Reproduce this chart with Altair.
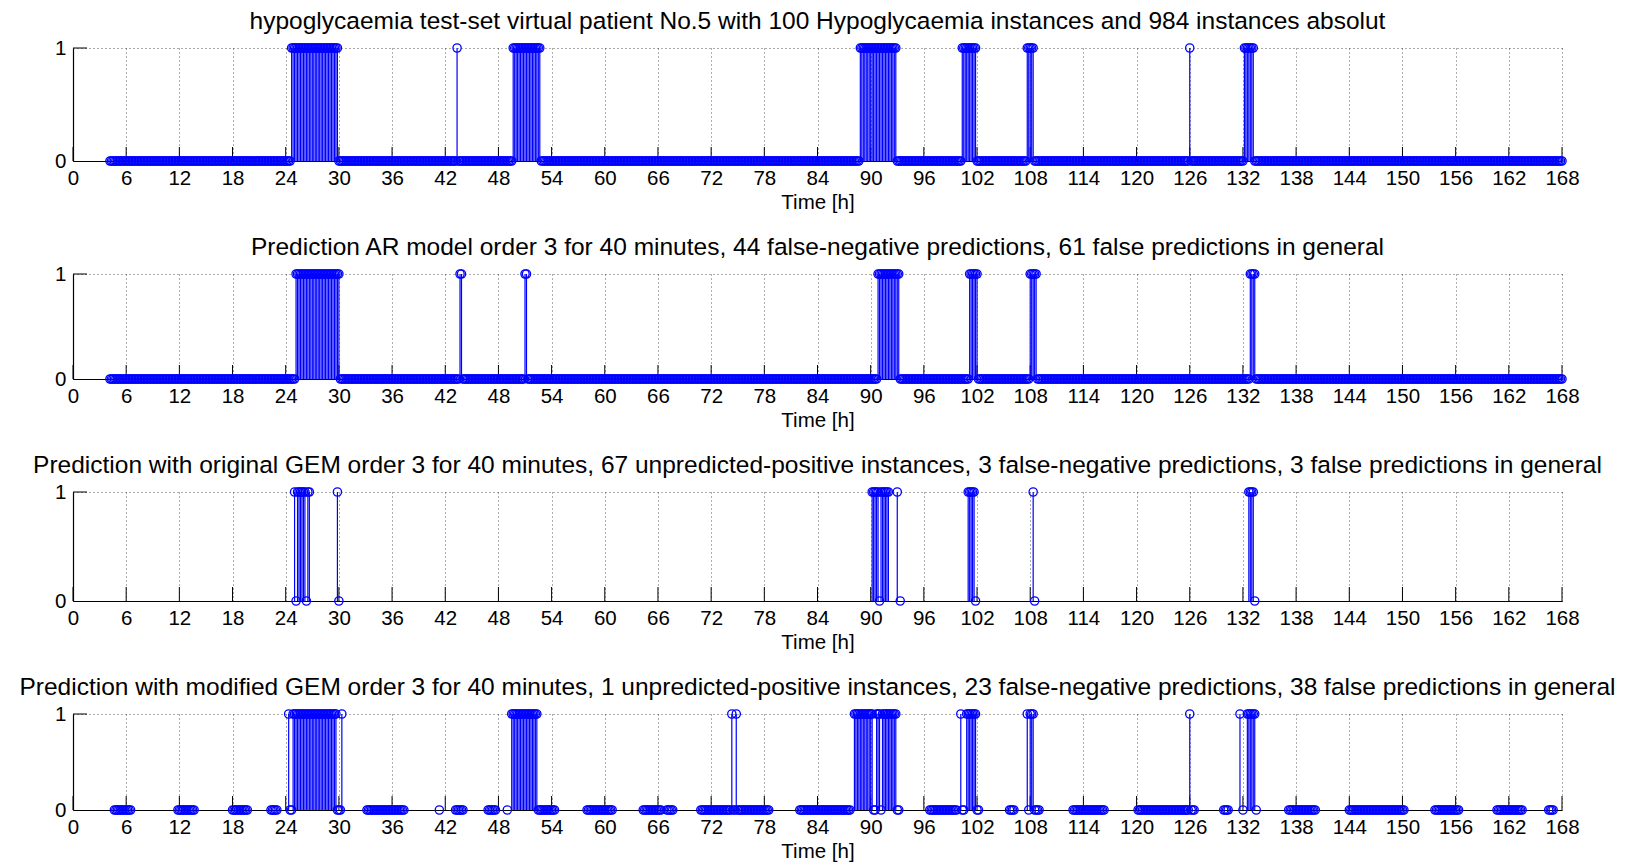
import altair as alt
import pandas as pd

FONT = "Liberation Sans"
BLUE = "#0000ff"
SAMPLES_PER_HOUR = 6            # one instance every 10 minutes
FIRST_SAMPLE = 25               # first sample index (4h10min)
LAST_SAMPLE = 1008              # last sample index (168h)
X_TICKS = list(range(0, 169, 6))
Y_TICKS = [0, 1]

TITLES = [
    "hypoglycaemia test-set virtual patient No.5 with 100 Hypoglycaemia instances and 984 instances absolut",
    "Prediction AR model order 3 for 40 minutes, 44 false-negative predictions, 61 false predictions in general",
    "Prediction with original GEM order 3 for 40 minutes, 67 unpredicted-positive instances, 3 false-negative predictions, 3 false predictions in general",
    "Prediction with modified GEM order 3 for 40 minutes, 1 unpredicted-positive instances, 23 false-negative predictions, 38 false predictions in general",
]

# hour ranges (start, end) with value 1 / value 0
P1_ONES = [(24.67, 29.83), (43.33, 43.33), (49.67, 52.67), (88.83, 92.83),
           (100.33, 101.83), (107.67, 108.33), (126.0, 126.0), (132.17, 133.17)]
P2_ONES = [(25.17, 30.0), (43.67, 43.83), (51.0, 51.17), (90.83, 93.17),
           (101.17, 102.0), (108.0, 108.67), (132.83, 133.33)]
P3_ONES = [(25.0, 25.0), (25.33, 26.17), (26.5, 26.67), (29.83, 29.83), (90.17, 90.83),
           (91.17, 92.0), (93.0, 93.0), (101.0, 101.67), (108.33, 108.33), (132.67, 133.17)]
P3_ZEROS = [(25.17, 25.17), (26.33, 26.33), (30.0, 30.0), (91.0, 91.0), (93.33, 93.33),
            (101.83, 101.83), (108.5, 108.5), (133.33, 133.33)]
P4_ONES = [(24.33, 24.33), (24.83, 29.67), (30.33, 30.33), (49.5, 52.33), (74.33, 74.33),
           (74.83, 74.83), (88.17, 90.17), (90.67, 91.0), (91.33, 92.83), (100.17, 100.17),
           (100.83, 101.83), (107.67, 107.67), (108.0, 108.33), (126.0, 126.0),
           (131.67, 131.67), (132.5, 133.33)]
P4_ZEROS = [(4.67, 6.5), (11.83, 13.67), (18.0, 19.67), (22.33, 23.0), (24.5, 24.67),
            (29.83, 30.17), (33.17, 37.33), (41.33, 41.33), (43.17, 44.0), (46.83, 47.67),
            (49.0, 49.0), (52.5, 54.33), (58.0, 60.83), (64.33, 66.33), (67.0, 67.67),
            (70.83, 74.17), (74.5, 74.67), (75.0, 78.5), (82.0, 87.67), (90.33, 90.5),
            (91.17, 91.17), (93.0, 93.17), (96.67, 99.67), (100.33, 100.5), (102.0, 102.17),
            (105.67, 106.17), (107.83, 107.83), (108.5, 109.0), (112.83, 116.33),
            (120.17, 125.83), (126.17, 126.5), (129.83, 130.33), (132.0, 132.0),
            (133.5, 133.5), (137.17, 140.17), (144.0, 150.17), (153.67, 156.33),
            (160.67, 163.5), (166.5, 167.0)]

PANEL_HEIGHTS = [113, 105, 109, 96]
PANEL_WIDTH = 1489


def sample_ids(segments):
    ids = set()
    for s, e in segments:
        ids.update(range(round(s * SAMPLES_PER_HOUR), round(e * SAMPLES_PER_HOUR) + 1))
    return ids


def full_series(ones):
    one_ids = sample_ids(ones)
    rows = [{"t": k / SAMPLES_PER_HOUR, "v": 1 if k in one_ids else 0, "v0": 0}
            for k in range(FIRST_SAMPLE, LAST_SAMPLE + 1)]
    return pd.DataFrame(rows)


def partial_series(ones, zeros):
    rows = [{"t": k / SAMPLES_PER_HOUR, "v": 0, "v0": 0} for k in sorted(sample_ids(zeros))]
    rows += [{"t": k / SAMPLES_PER_HOUR, "v": 1, "v0": 0} for k in sorted(sample_ids(ones))]
    return pd.DataFrame(rows)


def panel(df, title, height):
    xs = alt.X("t:Q", scale=alt.Scale(domain=[0, 168], nice=False, zero=False),
               axis=alt.Axis(values=X_TICKS, title="Time [h]", grid=True, format="d",
                             labelFlush=False))
    ys = alt.Y("v:Q", scale=alt.Scale(domain=[0, 1], nice=False),
               axis=alt.Axis(values=Y_TICKS, title=None, grid=True, format="d",
                             labelFlush=False))
    base = alt.Chart(df)
    stems = base.transform_filter("datum.v == 1").mark_rule(
        color=BLUE, strokeWidth=1.2).encode(
        x=xs, y=alt.Y("v0:Q", scale=alt.Scale(domain=[0, 1], nice=False)), y2="v:Q")
    pts = base.mark_point(shape="circle", filled=False, color=BLUE, size=68,
                          strokeWidth=1.3, opacity=1).encode(x=xs, y=ys)
    tick_df = pd.DataFrame({"t": X_TICKS})
    xticks = alt.Chart(tick_df).mark_rule(color="black", strokeWidth=1).encode(
        x=xs, y=alt.value(height), y2=alt.value(height - 14))
    ytick = alt.Chart(pd.DataFrame({"v": [1]})).mark_rule(color="black", strokeWidth=1).encode(
        y=ys, x=alt.value(0), x2=alt.value(14))
    return alt.layer(xticks, ytick, stems, pts).properties(
        width=PANEL_WIDTH, height=height,
        title=alt.TitleParams(text=title, frame="group", anchor="middle", offset=4))


d1 = full_series(P1_ONES)
d2 = full_series(P2_ONES)
d3 = partial_series(P3_ONES, P3_ZEROS)
d4 = partial_series(P4_ONES, P4_ZEROS)

panels = [panel(d, t, h) for d, t, h in zip([d1, d2, d3, d4], TITLES, PANEL_HEIGHTS)]

chart = alt.VConcatChart(vconcat=panels, spacing=113, bounds="flush").properties(
    padding={"left": 19, "top": 8, "right": 5, "bottom": 5}
).configure_view(stroke=None).configure_axis(
    domainColor="black", domainWidth=1.2, labelFont=FONT, labelFontSize=20.5,
    labelColor="black", tickSize=0, gridColor="#333", gridDash=[1, 3], gridOpacity=0.8,
    gridWidth=1, titleFont=FONT, titleFontSize=20.5, titleFontWeight="normal",
    titleColor="black", labelPadding=7, titlePadding=4
).configure_title(font=FONT, fontSize=24.5, fontWeight="normal", color="black")

chart.save("out.html", embed_options={"renderer": "svg", "actions": False})
